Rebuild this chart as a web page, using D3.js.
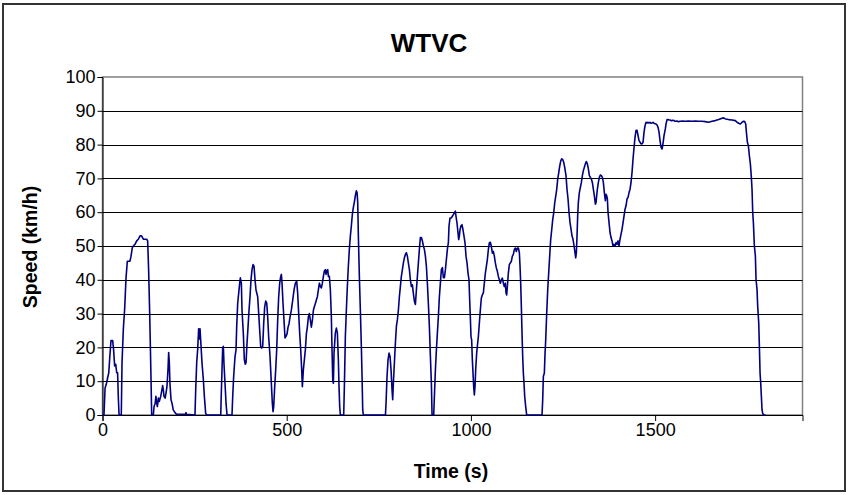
<!DOCTYPE html>
<html>
<head>
<meta charset="utf-8">
<script src="https://cdn.jsdelivr.net/npm/d3@7"></script>
<style>
  html, body { margin: 0; padding: 0; background: #fff; }
  svg { display: block; font-family: "Liberation Sans", Arial, sans-serif; }
</style>
</head>
<body>
<svg id="chart" width="849" height="495"></svg>
<script>
// ---- data ----
const chartTitle = "WTVC";
const xTitle = "Time (s)";
const yTitle = "Speed (km/h)";
const xTickValues = [0, 500, 1000, 1500];
const yTickValues = [0, 10, 20, 30, 40, 50, 60, 70, 80, 90, 100];

const timeS = [
  0,4,7,10,13,17,20,23,27.6,30,33,36,38.5,41,43,45,51,
  53,56.6,60.2,63.8,67.4,74.6,77.4,81,83.7,88.2,92.8,97.3,101.8,106,110.9,115,119.9,122.6,125.3,128,129.9,131.7,133.5,138,
  140,143,145,147,149,151.6,154,158,160.5,163.3,165,167,170,172.4,175,177.8,179.6,181.4,183,186,188.7,192,196.8,201,225,226.7,228,251,
  253,255.7,258.4,261,262.9,264.7,267.4,270,273.7,276.5,280,282.8,321,
  321.7,324.4,326.2,328,329.8,332.5,335.3,338,351.5,
  353.4,356,359.7,362.4,364.2,366.9,369.6,372.4,374.2,376.9,378.7,382.3,385,387.7,389.6,392.3,395,397.7,400.4,403.1,405.8,408.6,411.3,414,416.7,421.2,424,426.7,429.4,432.1,434.8,437.5,440.2,443,445.7,448.4,451.1,454.7,458.3,461,462.9,464.7,467.4,470.1,472.8,475.5,478.2,481,483.7,485.5,487.3,490,492.7,495.4,498.2,500.9,503.6,506.3,509,512.6,516.3,519.9,523.5,527.1,529.8,532.5,535.3,538,540.7,542.5,545.2,547.9,550.6,553.4,556,558.8,561.5,564.2,566.9,569.6,572.4,575,577.8,580.5,583.2,585.9,588.7,591.4,594.1,596.8,599.5,602.2,605,606.8,608.6,611.3,613.1,615.8,618.5,621.2,623,624.9,626.7,
  628.4,632,634.8,637.5,640.2,642,643.8,645.6,654.7,656.5,659.2,661.9,664.6,667.3,670,672.8,675.5,678.2,680.9,683.6,686.4,689,690.9,692.7,694.5,697.2,699.9,702.6,704.5,706.3,708,768,
  769.6,772.3,775,777.8,780.5,783.2,785.9,787.7,789.5,792.2,795,797.7,800.4,803.1,805.8,808.5,811.2,814,816.7,819.4,822.1,824.8,827.5,830.2,833,835.7,838.4,841.1,843.8,846.5,849.3,852,854.7,857.4,860.1,862.8,865.5,868.3,871,873.7,876.4,879.1,881.8,884.5,887.3,890,892.7,894.5,899,
  900.8,903.6,906.3,909,911.7,914.4,917.1,919.8,922.6,925.3,928,930.7,933.4,936.1,938.8,
  940.5,943.2,946.9,949.6,952.3,955,957.7,959.5,962.2,965,966.8,968.6,970.4,973.1,975.8,978.5,981.2,984,986.7,989.4,992.1,994.8,996.6,998.4,1000.2,1002,1003.9,1005.7,1007.5,1009.3,1011.1,1012.9,1015.6,1017.4,1020.2,1022.9,1025.6,1028.3,1031,1033.7,1036.4,1039.2,1041.9,1044.6,1047.3,1050,1052.7,1055.5,1058.2,1060.9,1063.6,1066.3,1069,1071.7,1074.5,1077.2,1079.9,1082.6,1085.3,1088,1090.7,1093.5,1095.3,1097.1,1098.9,1101.6,1104.3,1107,1109.8,1112.5,1115.2,1117.9,1120.6,1123.3,1126,1128.8,1131.5,1133.3,1135.1,1136.9,1138.7,1140.5,1142.3,1144.1,1146,1148.7,1151.4,1193,
  1194.8,1196.6,1199.3,1201.2,1203,1205.7,1208.4,1211.1,1213.8,1216.5,1219.3,1222,1224.7,1227.4,1230.1,1232.8,1235.5,1238.3,1241,1243.7,1246.4,1249.1,1251.8,1255,1258.1,1260.8,1263.6,1266.3,1269,1271.7,1274.4,1277.1,1279.9,1282.6,1284.4,1286.2,1288,1289.8,1291.6,1294.3,1297,1299.8,1302.5,1305.2,1307.9,1310.6,1313.3,1316,1318.8,1321.5,1324.2,1326.9,1329.6,1332.3,1335,1337.8,1339.6,1341.4,1343.2,1345.9,1348.6,1351.3,1354,1356.8,1359.5,1362.2,1364.9,1366.7,1368.5,1370.4,1372.2,1374.9,1377.6,1380.3,1383,1385.7,1388.5,1391.2,1393.9,1396.6,1399.3,1402,1404.7,1407.5,1410.2,1412.9,1415.6,1418.3,1421,1423.7,1426.5,1429.2,1431.9,1434.6,1437.3,1440,1442.8,1445.5,1448.2,1450.9,1453.6,1456.3,1459,1461.8,1464.5,1467.2,1469.9,1472.6,1475.3,1478,1480.8,1483.5,1486.2,1488.9,1491.6,1494.3,1497,1499.8,1502.5,1505.2,1507.9,1510.6,1513.3,1516.1,1518.8,1520.6,1522.4,1524.2,1526,1527.8,1529.6,1532.3,1535.1,1537.8,1540.5,1543.2,1545.9,1548.6,1551.4,1554.1,1556.8,1559.5,1562.2,1564.9,1567.6,1570.4,1573.1,
  1582,1591,1600,1609,1618,1627,1636,1645,1654.5,1663.5,1672.6,1681.6,1686,1690.7,1699.7,1708.8,1717.8,1722.3,1726.9,1731.4,1735.9,1740.4,1743.1,1745.9,1747.7,1750.4,1753.1,1755.8,1758.5,1761.2,1763,1764.9,1766.7,1769.4,1772.1,1773.9,1776.6,1778.4,1781.2,1783,1784.8,1786.6,1788.4,1790.2,1792,1794.7,1800
];

const speedKmh = [
  0,0,8,9,10.5,12.5,17.5,22,22,19.5,14.5,15,12.5,12.5,5,0,0,
  15.5,25.5,31.5,40.5,45.5,45.5,47,49.5,50,50.5,51.5,52,53,53,52,52,52,51.5,42.5,30.5,20.5,10.5,0,0,
  2.5,3.5,5.5,3.5,2.5,5,4,5.5,7,8.7,7.5,5.5,5,6.5,8.5,13.5,18.5,15.5,9.5,4.5,3.5,1.5,0.7,0.2,0.2,0.7,0.2,0,
  7.5,15.5,19.5,25.5,22.5,25.5,20.5,15.5,10.5,5.5,0.5,0,0,
  3.5,13.4,20,20.3,15,9.4,3.5,0,0,
  5.4,11.4,17.3,19.3,26,33,36,39,40.6,39,31,24,16.3,15,15.5,21.3,26,31,35,40,43,44.5,44,40,37,35,30,25,20.3,19.8,20.3,27,32,33.7,33.2,29,23,17.3,9.4,3.5,1,2.5,8.4,13.4,19.3,28,35,39,41,41.6,39,33,28,22.8,23.3,24,26,27,29,31,34,37,39,39.6,36,30,24,19.3,13.4,8.4,13.4,16.3,19.3,24,26,29,30,28,26,28,31,32,33,34,35,37,39,38,37.6,39,41,42.6,43,41.6,42.6,43,41,41,37,29,19.3,10.4,9.4,
  18.3,24.3,25.7,24.3,16.3,8.4,2.5,0,0,8.4,23.3,31,38,44,49,53,56,59.4,61.4,63,65,66.3,65.8,63,53,41,31,20.3,11.4,1.5,0,0,
  3.5,11.4,16.3,18.3,17.3,13.4,7.4,4.5,9.4,15.3,21.3,26.2,28.2,31,35,38,41,43,45,46.5,47.5,48,47,45,43,40,38,38.5,36,33.7,32.7,37,41,45,49,52.5,52.5,51.5,50,49,47,44,39,33,26,17.3,9.4,0,0,
  5.4,13.4,19.3,24.3,29.2,35,39,43,43.6,40.6,40.6,43,46,49,51,
  55.8,58.3,58.3,58.8,59.3,59.8,60.3,58.8,56.8,53.9,51.9,52.9,54.8,56,56.3,54.8,52.9,50.9,47,45,42,40,34,29,23.2,22.2,16.3,12.4,8.4,5.9,8.4,13.3,18.3,20.3,23.2,27.2,31.1,34.6,35.6,36.1,39,42,44,46,48.9,50.9,51.1,49.9,47.9,48.4,47,45,43.5,42.5,41,40,39,40,40.5,39,38,39,36,35.5,38,42,44.5,45,45.5,47,47.5,49,49.4,48.4,49.4,49.4,48,44,39,32,24.2,17.3,12.4,9.4,5.4,2.5,0,0,
  4.4,11.4,12.4,18.3,22.2,30.1,37,42,47,51.9,54.8,57.8,59.8,62.7,64.7,66.7,69.7,71.6,73.6,75.1,75.8,75.6,74.8,73,70.8,66.8,63.9,59.9,56.9,55,53,52,50,48,46.5,48,53,59,62.9,65.8,67.3,68.8,70.8,72.3,73.3,74.3,75,74.3,72.8,70.8,70.3,69.8,68.8,66.8,64.9,62.4,62.9,64.9,66.8,68.8,70.3,71,70.8,70.3,68.8,65.8,63.4,65.3,64.9,63.9,59.9,56.9,54,52.5,51.5,50,50.5,50,51,50.5,51.5,50,52,53.5,55,56.9,58.9,60.9,61.9,63.9,64.4,65.8,66.8,68.8,71.8,75.7,79.2,82.2,84.2,84.2,82.7,81.2,80.7,80.2,80.2,80.7,83.7,85.6,86.6,86.4,86.6,86.4,86.6,86.3,86.4,86.6,86.3,86.2,86.1,85.8,85.1,83.7,81.2,79.2,78.7,79.7,81.2,82.7,83.7,84.7,86.1,87.4,87.4,87.3,87.3,87.1,87.1,87.2,87.1,86.9,86.9,87,86.8,86.8,86.9,86.9,87,
  86.9,87,86.9,87,86.9,86.9,86.8,86.6,86.9,87.1,87.4,87.8,87.9,87.6,87.4,87.3,87.1,86.6,86.3,86.1,86.6,86.9,86.8,86.1,83.7,80.7,79.7,76.7,74.3,70.3,66.8,59.9,56.9,50,47,40.1,37.1,32.2,27.2,20.3,12.4,9.4,5.4,1.5,0.5,0,0
];

// ---- layout ----
const W = 849, H = 495;
const plot = { left: 102.5, top: 77, bottom: 415 };
const x = d3.scaleLinear().domain([0, 1900]).range([plot.left, plot.left + 700]);
const y = d3.scaleLinear().domain([0, 100]).range([plot.bottom, plot.top]);
const plotRight = x(1900);

const svg = d3.select("#chart");

// outer frame
svg.append("rect")
  .attr("x", 3).attr("y", 4).attr("width", W - 7).attr("height", H - 8)
  .attr("fill", "#fff").attr("stroke", "#333").attr("stroke-width", 2);

// plot background
svg.append("rect")
  .attr("x", plot.left).attr("y", plot.top)
  .attr("width", plotRight - plot.left).attr("height", plot.bottom - plot.top)
  .attr("fill", "#fff").attr("stroke", "#808080").attr("stroke-width", 1.5);

// gridlines
svg.append("g").selectAll("line")
  .data(yTickValues.filter(v => v > 0 && v < 100))
  .join("line")
  .attr("x1", plot.left).attr("x2", plotRight)
  .attr("y1", d => Math.round(y(d)) + 0.5).attr("y2", d => Math.round(y(d)) + 0.5)
  .attr("stroke", "#000").attr("stroke-width", 1);

// y axis
const yAxis = d3.axisLeft(y).tickValues(yTickValues).tickSize(5).tickPadding(2).tickFormat(d3.format("d"));
const gy = svg.append("g").attr("transform", `translate(${plot.left},0)`).call(yAxis);
gy.select(".domain").attr("stroke", "#000");
gy.selectAll(".tick line").attr("stroke", "#000");
gy.selectAll(".tick text").attr("font-size", 18).attr("fill", "#000")
  .attr("font-family", "Liberation Sans, Arial, sans-serif");

// x axis
const xAxis = d3.axisBottom(x).tickValues(xTickValues).tickSize(6).tickPadding(2).tickFormat(d3.format("d"));
const gx = svg.append("g").attr("transform", `translate(0,${plot.bottom})`).call(xAxis);
gx.select(".domain").attr("stroke", "#000");
gx.selectAll(".tick line").attr("stroke", "#000");
gx.selectAll(".tick text").attr("font-size", 18).attr("fill", "#000")
  .attr("font-family", "Liberation Sans, Arial, sans-serif");

// line
const pts = timeS.map((t, i) => [t, speedKmh[i]]);
const line = d3.line().x(d => x(d[0])).y(d => y(d[1]));
svg.append("path").datum(pts)
  .attr("d", line)
  .attr("fill", "none")
  .attr("stroke", "#000080")
  .attr("stroke-width", 1.6)
  .attr("stroke-linejoin", "round");

// title
svg.append("text").attr("x", 429).attr("y", 52).attr("text-anchor", "middle")
  .attr("font-size", 26).attr("font-weight", "bold").attr("fill", "#000").text(chartTitle);

// axis titles
svg.append("text").attr("x", 451).attr("y", 478).attr("text-anchor", "middle")
  .attr("font-size", 19.5).attr("font-weight", "bold").attr("fill", "#000").text(xTitle);
svg.append("text").attr("transform", "translate(37,247) rotate(-90)").attr("text-anchor", "middle")
  .attr("font-size", 19.5).attr("font-weight", "bold").attr("fill", "#000").text(yTitle);
</script>
</body>
</html>
